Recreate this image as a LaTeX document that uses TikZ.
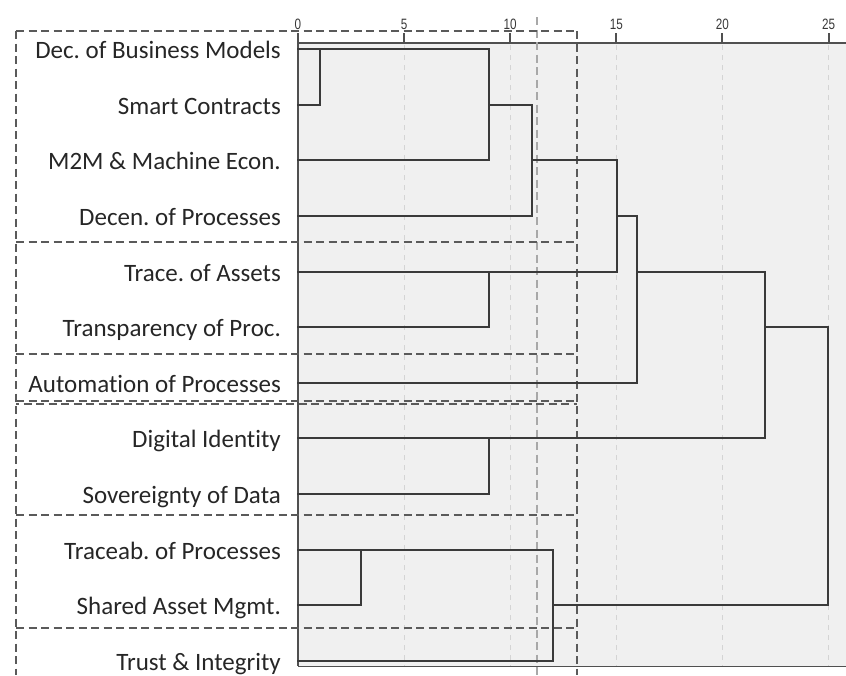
\documentclass[tikz,border=0pt]{standalone}
\usepackage{fontspec}
\setmainfont{Carlito}[Ligatures=NoCommon]
\newfontfamily\tickfont{Liberation Sans}
\frenchspacing
\definecolor{bgc}{HTML}{F0F0F0}
\definecolor{dend}{HTML}{3A3A3A}
\definecolor{boxc}{HTML}{5A5A5A}
\definecolor{cutc}{HTML}{A8A8A8}
\definecolor{gridc}{HTML}{D4D4D4}
\definecolor{axisc}{HTML}{505050}
\tikzset{
  dendro/.style={draw=dend, line width=2pt, line cap=rect},
  gridline/.style={draw=gridc, line width=1pt, dash pattern=on 5pt off 5pt},
  boxline/.style={draw=boxc, line width=2pt, dash pattern=on 8pt off 4.5pt},
  cutline/.style={draw=cutc, line width=2pt, dash pattern=on 8pt off 4.5pt},
  axisline/.style={draw=axisc, line width=2pt},
  item/.style={anchor=base east, font=\fontsize{25}{28}\selectfont, text=black!85, inner sep=0pt},
  ticklab/.style={anchor=base, font=\tickfont\fontsize{15}{17}\selectfont, text=black!78, inner sep=0pt, xscale=0.78},
}
\begin{document}
\begin{tikzpicture}[x=1pt,y=-1pt]
\useasboundingbox (0,0) rectangle (846,675);
% background of the chart
\fill[bgc] (298,43) rectangle (846,666);
% grid
\foreach \v in {5,10,15,20,25}
  \draw[gridline] ({298+21.22*\v},45) -- ({298+21.22*\v},666);
% axis and ticks
\draw[axisline] (298,43) -- (846,43);
\draw[axisline] (298,43) -- (298,666);
\draw[draw=axisc, line width=1pt] (298,666.5) -- (846,666.5);
\foreach \v in {0,5,10,15,20,25} {
  \draw[axisline] ({298+21.22*\v},43) -- ({298+21.22*\v},33);
  \node[ticklab] (t\v) at ({298+21.22*\v},29) {\v};
}
% cut line
\draw[cutline] (537,17) -- (537,675);
% dashed boxes
\draw[boxline] (16,31) -- (577,31);
\draw[boxline] (16,242) -- (577,242);
\draw[boxline] (16,354) -- (577,354);
\draw[boxline] (16,401) -- (577,401);
\draw[boxline, dash phase=5pt] (16,404) -- (577,404);
\draw[boxline] (16,515) -- (577,515);
\draw[boxline] (16,628) -- (577,628);
\draw[boxline] (16,31) -- (16,675);
\draw[boxline] (577,31) -- (577,675);
% rows
\coordinate (s0) at (298,49);
\coordinate (s1) at (298,105);
\coordinate (s2) at (298,160);
\coordinate (s3) at (298,216);
\coordinate (s4) at (298,272);
\coordinate (s5) at (298,327);
\coordinate (s6) at (298,383);
\coordinate (s7) at (298,438);
\coordinate (s8) at (298,494);
\coordinate (s9) at (298,550);
\coordinate (s10) at (298,605);
\coordinate (s11) at (298,661);
% merge levels
\coordinate (xA) at (320,0);
\coordinate (xB) at (489,0);
\coordinate (xC) at (532,0);
\coordinate (xD) at (489,0);
\coordinate (xE) at (617,0);
\coordinate (xF) at (637,0);
\coordinate (xG) at (489,0);
\coordinate (xH) at (765,0);
\coordinate (xI) at (361,0);
\coordinate (xJ) at (553,0);
\coordinate (xK) at (828,0);
% labels
\node[item] (l0) at ([xshift=-17pt,yshift=-9pt]s0) {Dec. of Business Models};
\node[item] (l1) at ([xshift=-17pt,yshift=-9pt]s1) {Smart Contracts};
\node[item] (l2) at ([xshift=-17pt,yshift=-9pt]s2) {M2M \& Machine Econ.};
\node[item] (l3) at ([xshift=-17pt,yshift=-9pt]s3) {Decen. of Processes};
\node[item] (l4) at ([xshift=-17pt,yshift=-9pt]s4) {Trace. of Assets};
\node[item] (l5) at ([xshift=-17pt,yshift=-9pt]s5) {Transparency of Proc.};
\node[item] (l6) at ([xshift=-17pt,yshift=-9pt]s6) {Automation of Processes};
\node[item] (l7) at ([xshift=-17pt,yshift=-9pt]s7) {Digital Identity};
\node[item] (l8) at ([xshift=-17pt,yshift=-9pt]s8) {Sovereignty of Data};
\node[item] (l9) at ([xshift=-17pt,yshift=-9pt]s9) {Traceab. of Processes};
\node[item] (l10) at ([xshift=-17pt,yshift=-9pt]s10) {Shared Asset Mgmt.};
\node[item] (l11) at ([xshift=-17pt,yshift=-9pt]s11) {Trust \& Integrity};
% leaf lines
\draw[dendro] (s0) -- (s0-|xB);
\draw[dendro] (s1) -- (s1-|xA);
\draw[dendro] (s2) -- (s2-|xB);
\draw[dendro] (s3) -- (s3-|xC);
\draw[dendro] (s4) -- (s4-|xE);
\draw[dendro] (s5) -- (s5-|xD);
\draw[dendro] (s6) -- (s6-|xF);
\draw[dendro] (s7) -- (s7-|xH);
\draw[dendro] (s8) -- (s8-|xG);
\draw[dendro] (s9) -- (s9-|xJ);
\draw[dendro] (s10) -- (s10-|xI);
\draw[dendro] (s11) -- (s11-|xJ);
% merges
\draw[dendro] (s0-|xA) -- (s1-|xA);
\draw[dendro] (s0-|xB) -- (s2-|xB);
\draw[dendro] (s1-|xC) -- (s3-|xC);
\draw[dendro] (s4-|xD) -- (s5-|xD);
\draw[dendro] (s2-|xE) -- (s4-|xE);
\draw[dendro] (s3-|xF) -- (s6-|xF);
\draw[dendro] (s7-|xG) -- (s8-|xG);
\draw[dendro] (s4-|xH) -- (s7-|xH);
\draw[dendro] (s9-|xI) -- (s10-|xI);
\draw[dendro] (s9-|xJ) -- (s11-|xJ);
\draw[dendro] (s5-|xK) -- (s10-|xK);
% cluster links
\draw[dendro] (s1-|xB) -- (s1-|xC);
\draw[dendro] (s2-|xC) -- (s2-|xE);
\draw[dendro] (s3-|xE) -- (s3-|xF);
\draw[dendro] (s4-|xF) -- (s4-|xH);
\draw[dendro] (s5-|xH) -- (s5-|xK);
\draw[dendro] (s10-|xJ) -- (s10-|xK);
\end{tikzpicture}
\end{document}
